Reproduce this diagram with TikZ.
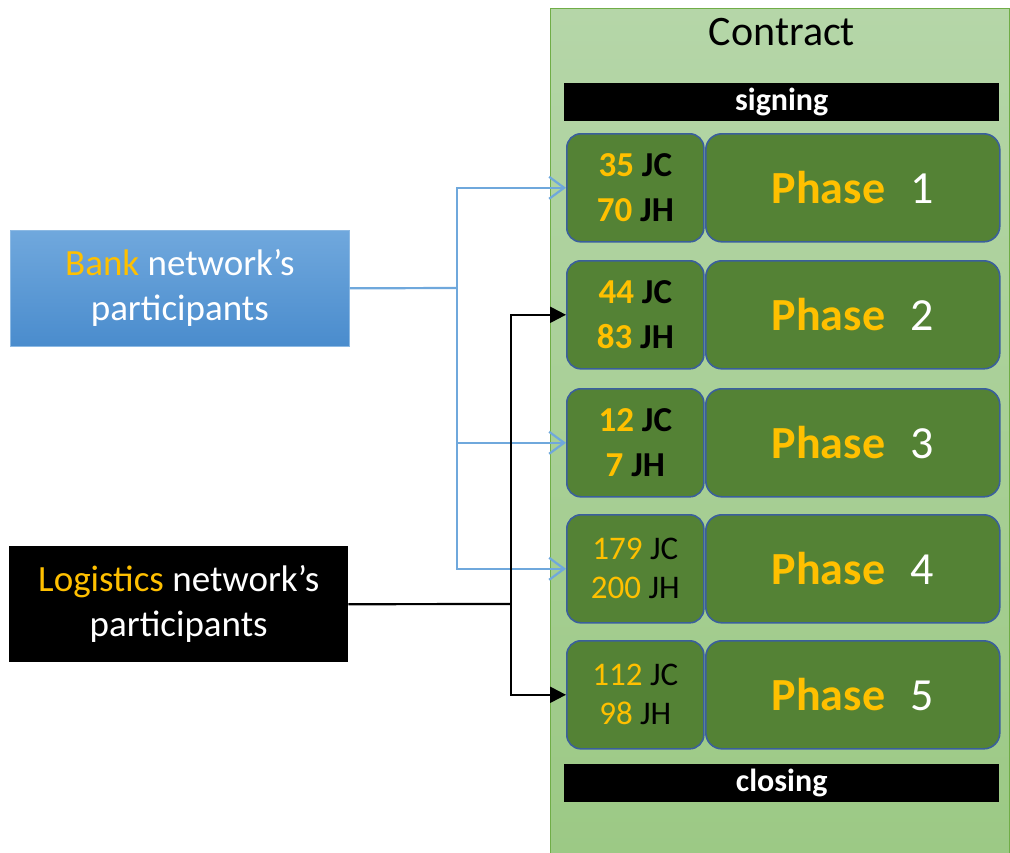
\documentclass[tikz,border=0pt]{standalone}
\usepackage{fontspec}
\setmainfont{Carlito}
\usetikzlibrary{arrows.meta}
\definecolor{gold}{HTML}{FFC000}
\definecolor{phasegreen}{HTML}{548235}
\definecolor{phaseedge}{HTML}{3A5F9C}
\definecolor{contractedge}{HTML}{70AD47}
\definecolor{ctop}{HTML}{B5D6A8}
\definecolor{cbot}{HTML}{9CC985}
\definecolor{lineblue}{HTML}{6FA8DC}
\definecolor{btop}{HTML}{70A8DD}
\definecolor{bbot}{HTML}{4A8CCD}
\tikzset{
  x=1pt, y=-1pt,
  bar/.style={fill=black, text=white, font=\fontsize{32}{34}\selectfont\bfseries, minimum width=435pt, minimum height=38pt, inner sep=0pt, anchor=north west},
  cnt/.style={draw=phaseedge, line width=1.6pt, fill=phasegreen, rounded corners=14pt, minimum width=137pt, minimum height=108pt, inner sep=0pt, anchor=north west, align=center},
  cntb/.style={cnt, font=\fontsize{35}{45}\selectfont\bfseries},
  cntr/.style={cnt, font=\fontsize{33}{39}\selectfont},
  phs/.style={draw=phaseedge, line width=1.6pt, fill=phasegreen, rounded corners=16pt, minimum width=294pt, minimum height=108pt, inner sep=0pt, anchor=north west, font=\fontsize{46}{50}\selectfont},
  netbox/.style={minimum width=339pt, minimum height=116pt, inner sep=0pt, anchor=north west, align=center, text=white, font=\fontsize{37}{45}\selectfont},
  bluearrow/.style={draw=lineblue, line width=2.2pt, -{Straight Barb[length=15pt,width=22pt,line width=2.2pt]}},
  blueline/.style={draw=lineblue, line width=2.2pt},
  blackarrow/.style={draw=black, line width=2.2pt, -{Triangle[length=16pt,width=16pt]}},
  blackline/.style={draw=black, line width=2.2pt},
}
\newcommand{\cn}[2]{\textcolor{gold}{#1} JC\\\textcolor{gold}{#2} JH}
\newcommand{\ph}[1]{\textbf{\textcolor{gold}{Phase}}\hspace{0.55em}\textcolor{white}{#1}}
\begin{document}
\begin{tikzpicture}
\useasboundingbox (0,0) rectangle (1010,852);
% contract container
\node[top color=ctop, bottom color=cbot, minimum width=459pt, minimum height=846pt, inner sep=0pt, anchor=north west] (contract) at (550,8) {};
\draw[contractedge, line width=1pt] (contract.south west) -- (contract.north west) -- (contract.north east) -- (contract.south east);
\node[font=\fontsize{42}{44}\selectfont] (ctitle) at (782,32) {Contract};
\node[bar] (signing) at (564,83) {signing};
\node[bar] (closing) at (564,764) {closing};
% phases
\node[cntb] (c1) at (566,133) {\cn{35}{70}};
\node[phs] (p1) at (705,133) {\ph{1}};
\node[cntb] (c2) at (566,260) {\cn{44}{83}};
\node[phs] (p2) at (705,260) {\ph{2}};
\node[cntb] (c3) at (566,388) {\cn{12}{7}};
\node[phs] (p3) at (705,388) {\ph{3}};
\node[cntr] (c4) at (566,514) {\cn{179}{200}};
\node[phs] (p4) at (705,514) {\ph{4}};
\node[cntr] (c5) at (566,640) {\cn{112}{98}};
\node[phs] (p5) at (705,640) {\ph{5}};
% networks
\node[netbox, top color=btop, bottom color=bbot, draw=lineblue!80, line width=0.6pt] (bank) at (10,230) {\textcolor{gold}{Bank} network’s\\participants};
\node[netbox, fill=black] (logi) at (9,546) {\textcolor{gold}{Logistics} network’s\\participants};
% connectors
\coordinate (bj) at (457,288);
\coordinate (lj) at (511,604);
\draw[blueline] (bank.east) -- (bj);
\draw[bluearrow] (bj) |- (c1.west);
\draw[bluearrow] (bj) |- (c3.west);
\draw[bluearrow] (bj) |- (c4.west);
\draw[blackline] (logi.east) -- (lj);
\draw[blackarrow] (lj) |- (c2.west);
\draw[blackarrow] (lj) |- (c5.west);
\end{tikzpicture}
\end{document}
